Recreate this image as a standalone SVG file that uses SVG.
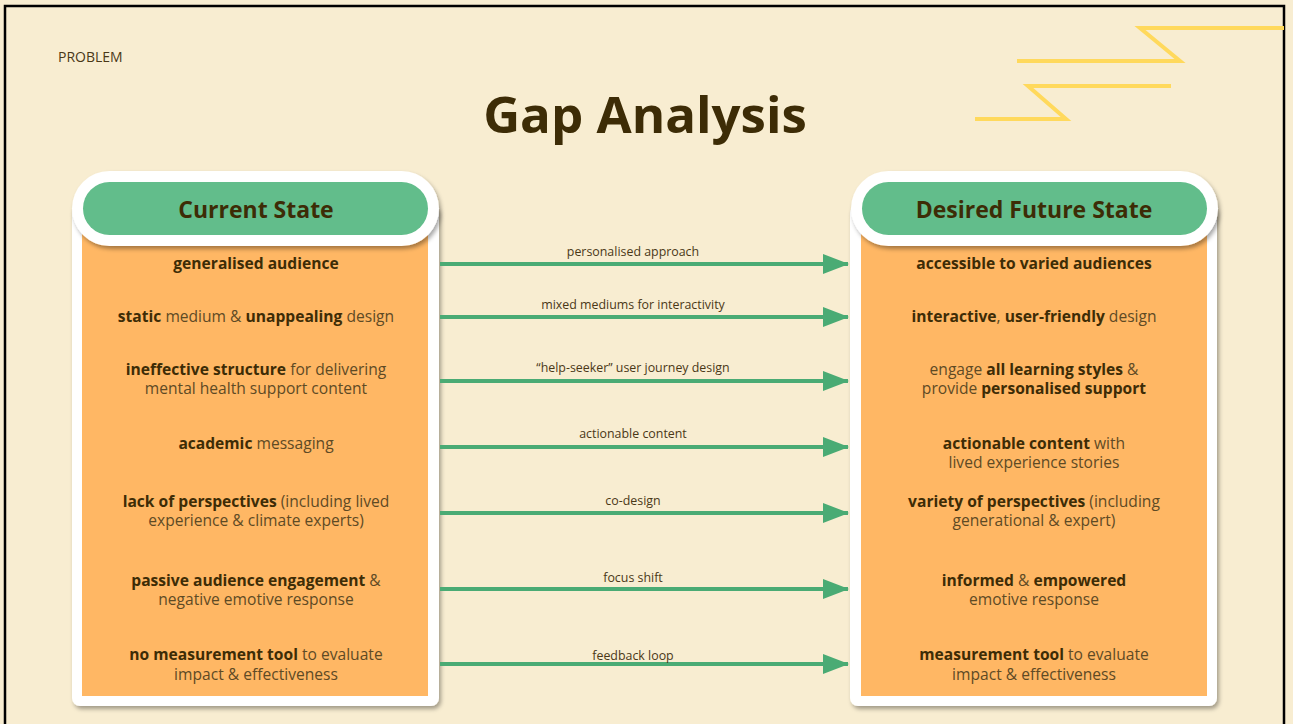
<svg xmlns="http://www.w3.org/2000/svg" width="1293" height="724" viewBox="0 0 1293 724">
  <defs>
    <style>
      .bg { fill: #f8edd1; }
      .frame { fill: none; stroke: #000; stroke-width: 2.5; }
      .zig { fill: none; stroke: #ffd95c; stroke-width: 4; stroke-linejoin: miter; }
      .tag { font-family: "Open Sans", "Liberation Sans", sans-serif; font-size: 14px; fill: #4a3817; }
      .title { font-family: "Open Sans", "Liberation Sans", sans-serif; font-size: 51px; font-weight: 700; fill: #3d2c06; }
      .card { fill: #ffffff; }
      .body { fill: #ffb764; }
      .pill { fill: #62bd8b; }
      .head { font-family: "Open Sans", "Liberation Sans", sans-serif; font-size: 23px; font-weight: 700; fill: #3d2c06; }
      .txt { font-family: "Open Sans", "Liberation Sans", sans-serif; font-size: 15.6px; fill: #5e4a24; text-anchor: middle; }
      .b { font-weight: 700; fill: #3d2c06; }
      .lbl { font-family: "Open Sans", "Liberation Sans", sans-serif; font-size: 12.4px; fill: #4a3817; text-anchor: middle; }
      .arrow { stroke: #4aab74; stroke-width: 4; fill: none; }
    </style>
    <filter id="shadow" x="-10%" y="-10%" width="120%" height="120%">
      <feDropShadow dx="2" dy="3" stdDeviation="2" flood-color="#000" flood-opacity="0.35"/>
    </filter>
    <marker id="head" markerUnits="userSpaceOnUse" markerWidth="26" markerHeight="20" refX="25" refY="10" orient="auto">
      <path d="M0,0 L26,10 L0,20 Z" fill="#4aab74"/>
    </marker>
  </defs>

  <!-- page -->
  <rect class="bg" x="0" y="0" width="1293" height="724"/>
  <rect class="frame" x="5" y="6" width="1279" height="740"/>

  <!-- decorative zigzags -->
  <g id="decor">
    <polyline class="zig" points="1284,28 1140,28 1180,61 1017,61"/>
    <polyline class="zig" points="1171,86 1028,86 1066,119 975,119"/>
  </g>

  <text class="tag" x="58" y="62">PROBLEM</text>
  <text class="title" x="645" y="133" text-anchor="middle">Gap Analysis</text>

  <!-- left column: current state -->
  <g id="current-state">
    <rect class="card" x="72" y="205" width="367" height="501" rx="8" filter="url(#shadow)"/>
    <rect class="body" x="82" y="215" width="346" height="481"/>
    <rect class="card" x="72" y="171" width="367" height="75" rx="37.5" filter="url(#shadow)"/>
    <rect class="pill" x="83" y="182" width="345" height="53" rx="26.5"/>
    <text class="head" x="256" y="218" text-anchor="middle">Current State</text>
    <text class="txt b" x="256" y="269">generalised audience</text>
    <text class="txt" x="256" y="322"><tspan class="b">static</tspan> medium &amp; <tspan class="b">unappealing</tspan> design</text>
    <text class="txt" x="256" y="375"><tspan class="b">ineffective structure</tspan> for delivering</text>
    <text class="txt" x="256" y="394">mental health support content</text>
    <text class="txt" x="256" y="449"><tspan class="b">academic</tspan> messaging</text>
    <text class="txt" x="256" y="507"><tspan class="b">lack of perspectives</tspan> (including lived</text>
    <text class="txt" x="256" y="526">experience &amp; climate experts)</text>
    <text class="txt" x="256" y="586"><tspan class="b">passive audience engagement</tspan> &amp;</text>
    <text class="txt" x="256" y="605">negative emotive response</text>
    <text class="txt" x="256" y="660"><tspan class="b">no measurement tool</tspan> to evaluate</text>
    <text class="txt" x="256" y="680">impact &amp; effectiveness</text>
  </g>

  <!-- right column: desired future state -->
  <g id="future-state">
    <rect class="card" x="850" y="205" width="367" height="501" rx="8" filter="url(#shadow)"/>
    <rect class="body" x="861" y="215" width="346" height="481"/>
    <rect class="card" x="851" y="171" width="367" height="75" rx="37.5" filter="url(#shadow)"/>
    <rect class="pill" x="862" y="182" width="345" height="53" rx="26.5"/>
    <text class="head" x="1034" y="218" text-anchor="middle">Desired Future State</text>
    <text class="txt b" x="1034" y="269">accessible to varied audiences</text>
    <text class="txt" x="1034" y="322"><tspan class="b">interactive</tspan>, <tspan class="b">user-friendly</tspan> design</text>
    <text class="txt" x="1034" y="375">engage <tspan class="b">all learning styles</tspan> &amp;</text>
    <text class="txt" x="1034" y="394">provide <tspan class="b">personalised support</tspan></text>
    <text class="txt" x="1034" y="449"><tspan class="b">actionable content</tspan> with</text>
    <text class="txt" x="1034" y="468">lived experience stories</text>
    <text class="txt" x="1034" y="507"><tspan class="b">variety of perspectives</tspan> (including</text>
    <text class="txt" x="1034" y="526">generational &amp; expert)</text>
    <text class="txt" x="1034" y="586"><tspan class="b">informed</tspan> &amp; <tspan class="b">empowered</tspan></text>
    <text class="txt" x="1034" y="605">emotive response</text>
    <text class="txt" x="1034" y="660"><tspan class="b">measurement tool</tspan> to evaluate</text>
    <text class="txt" x="1034" y="680">impact &amp; effectiveness</text>
  </g>

  <!-- connectors -->
  <g id="connectors">
    <line class="arrow" x1="440" y1="264" x2="848" y2="264" marker-end="url(#head)"/>
    <line class="arrow" x1="440" y1="317" x2="848" y2="317" marker-end="url(#head)"/>
    <line class="arrow" x1="440" y1="381" x2="848" y2="381" marker-end="url(#head)"/>
    <line class="arrow" x1="440" y1="447" x2="848" y2="447" marker-end="url(#head)"/>
    <line class="arrow" x1="440" y1="513" x2="848" y2="513" marker-end="url(#head)"/>
    <line class="arrow" x1="440" y1="589" x2="848" y2="589" marker-end="url(#head)"/>
    <line class="arrow" x1="440" y1="664" x2="848" y2="664" marker-end="url(#head)"/>
    <text class="lbl" x="633" y="256">personalised approach</text>
    <text class="lbl" x="633" y="309">mixed mediums for interactivity</text>
    <text class="lbl" x="633" y="372">“help-seeker” user journey design</text>
    <text class="lbl" x="633" y="438">actionable content</text>
    <text class="lbl" x="633" y="505">co-design</text>
    <text class="lbl" x="633" y="582">focus shift</text>
    <text class="lbl" x="633" y="660">feedback loop</text>
  </g>
</svg>
